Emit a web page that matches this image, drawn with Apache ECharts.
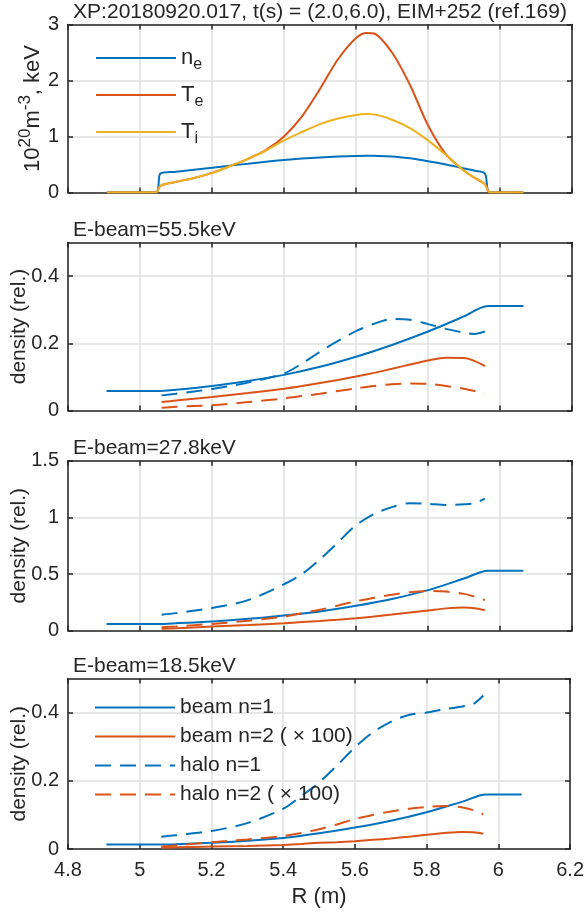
<!DOCTYPE html>
<html><head><meta charset="utf-8">
<script src="https://cdn.jsdelivr.net/npm/echarts@6/dist/echarts.min.js"></script>
<style>html,body{margin:0;padding:0;background:#fff}#c{width:587px;height:917px}</style>
</head><body><div id="c"></div>
<script>
// ---------- Panel 1: profiles ----------
const R_prof = [4.908, 5.044, 5.057, 5.1, 5.15, 5.2, 5.25, 5.3, 5.35, 5.4, 5.45, 5.5, 5.55, 5.6, 5.63, 5.65, 5.7, 5.75, 5.8, 5.85, 5.9, 5.93, 5.958, 5.972, 6.065];
const ne = [0, 0, 0.34, 0.37, 0.405, 0.44, 0.48, 0.515, 0.55, 0.58, 0.605, 0.625, 0.642, 0.653, 0.656, 0.655, 0.645, 0.61, 0.56, 0.50, 0.43, 0.39, 0.34, 0, 0];
const Te = [0, 0, 0.12, 0.19, 0.26, 0.35, 0.47, 0.6, 0.76, 1.0, 1.36, 1.85, 2.38, 2.76, 2.85, 2.84, 2.5, 1.92, 1.2, 0.68, 0.39, 0.26, 0.15, 0, 0];
const Ti = [0, 0, 0.12, 0.19, 0.26, 0.35, 0.47, 0.6, 0.75, 0.93, 1.08, 1.22, 1.32, 1.385, 1.40, 1.395, 1.30, 1.15, 0.93, 0.67, 0.39, 0.26, 0.15, 0, 0];

// ---------- beam / halo radial grids ----------
const R_beam = [4.907, 5.05, 5.1, 5.2, 5.3, 5.4, 5.5, 5.6, 5.7, 5.8, 5.9, 5.966, 6.065];
const R_halo = [5.06, 5.1, 5.2, 5.3, 5.4, 5.45, 5.5, 5.55, 5.6, 5.65, 5.7, 5.75, 5.8, 5.85, 5.9, 5.93, 5.958];

// E-beam = 55.5 keV
const b1_55 = [0.058, 0.058, 0.062, 0.073, 0.088, 0.106, 0.13, 0.16, 0.195, 0.235, 0.28, 0.311, 0.311];
const b2_55 = [0.025, 0.03, 0.04, 0.052, 0.065, 0.073, 0.082, 0.091, 0.101, 0.112, 0.124, 0.137, 0.149, 0.157, 0.156, 0.147, 0.132];
const h1_55 = [0.045, 0.05, 0.064, 0.083, 0.11, 0.14, 0.175, 0.207, 0.236, 0.258, 0.272, 0.27, 0.257, 0.243, 0.232, 0.228, 0.235];
const h2_55 = [0.008, 0.011, 0.016, 0.025, 0.036, 0.043, 0.05, 0.058, 0.066, 0.073, 0.078, 0.08, 0.079, 0.073, 0.065, 0.058, 0.05];

// E-beam = 27.8 keV
const b1_27 = [0.06, 0.06, 0.066, 0.082, 0.105, 0.135, 0.17, 0.22, 0.28, 0.358, 0.46, 0.53, 0.53];
const b2_27 = [0.018, 0.022, 0.036, 0.05, 0.066, 0.076, 0.086, 0.097, 0.11, 0.125, 0.142, 0.16, 0.178, 0.197, 0.205, 0.198, 0.18];
const h1_27 = [0.141, 0.155, 0.2, 0.27, 0.41, 0.5, 0.63, 0.78, 0.93, 1.03, 1.09, 1.125, 1.12, 1.11, 1.115, 1.125, 1.165];
const h2_27 = [0.03, 0.038, 0.06, 0.088, 0.125, 0.155, 0.185, 0.222, 0.26, 0.29, 0.318, 0.34, 0.352, 0.345, 0.325, 0.3, 0.27];

// E-beam = 18.5 keV
const b1_18 = [0.013, 0.013, 0.014, 0.018, 0.024, 0.032, 0.046, 0.063, 0.083, 0.108, 0.139, 0.16, 0.16];
const b2_18 = [0.004, 0.005, 0.007, 0.009, 0.012, 0.015, 0.018, 0.02, 0.023, 0.027, 0.031, 0.036, 0.042, 0.047, 0.05, 0.049, 0.045];
const h1_18 = [0.036, 0.04, 0.053, 0.076, 0.118, 0.155, 0.195, 0.245, 0.298, 0.342, 0.373, 0.393, 0.4, 0.41, 0.418, 0.425, 0.45];
const h2_18 = [0.007, 0.01, 0.02, 0.028, 0.038, 0.047, 0.058, 0.072, 0.088, 0.1, 0.11, 0.118, 0.123, 0.126, 0.122, 0.114, 0.102];

const panelTitles = ['E-beam=55.5keV', 'E-beam=27.8keV', 'E-beam=18.5keV'];
const mainTitle = 'XP:20180920.017, t(s) = (2.0,6.0), EIM+252 (ref.169)';
const legendProf = ['n_e', 'T_e', 'T_i'];
const legendBeam = ['beam n=1', 'beam n=2 ( × 100)', 'halo n=1', 'halo n=2 ( × 100)'];
const xTicks = {min: 4.8, max: 6.2, interval: 0.2};
const yRanges = [{min: 0, max: 3, interval: 1}, {min: 0, max: 0.5, interval: 0.2}, {min: 0, max: 1.5, interval: 0.5}, {min: 0, max: 0.5, interval: 0.2}];

// ---------- styling ----------
const FONT = 'Liberation Sans, Arial, Helvetica, sans-serif';
const INK = '#262626';
const BLUE = '#0072BD', ORANGE = '#D95319', YELLOW = '#EDB120';
const DASH = [16, 9];
const grids = [
  {left: 68, width: 504, top: 24.5, height: 168},
  {left: 68, width: 504, top: 242.5, height: 168},
  {left: 68, width: 504, top: 460.7, height: 170},
  {left: 68, width: 504, top: 678.5, height: 170.5}
];

function zip(xs, ys) { return xs.map((x, i) => [x, ys[i]]); }

const xAxes = [], yAxes = [];
const axLine = {show: true, onZero: false, lineStyle: {color: INK, width: 1.5}};
const axTick = {show: true, inside: true, length: 5, lineStyle: {color: INK, width: 1.5}};
const split = {show: true, lineStyle: {color: '#dfdfdf', width: 1.5}};
grids.forEach((g, i) => {
  const last = i === 3;
  xAxes.push({type: 'value', gridIndex: i, position: 'bottom', min: xTicks.min, max: xTicks.max, interval: xTicks.interval,
    axisLine: axLine, axisTick: axTick, splitLine: split,
    axisLabel: {show: last, fontSize: 20, color: INK, fontFamily: FONT, margin: 11},
    name: last ? 'R (m)' : '', nameLocation: 'middle', nameGap: 37, nameMoveOverlap: false,
    nameTextStyle: {fontSize: 22, color: INK, fontFamily: FONT, verticalAlign: 'top'}});
  xAxes.push({type: 'value', gridIndex: i, position: 'top', min: xTicks.min, max: xTicks.max, interval: xTicks.interval,
    axisLine: axLine, axisTick: axTick, splitLine: {show: false}, axisLabel: {show: false}});
  const yr = yRanges[i];
  yAxes.push({type: 'value', gridIndex: i, position: 'left', min: yr.min, max: yr.max, interval: yr.interval,
    axisLine: axLine, axisTick: axTick, splitLine: split,
    axisLabel: {show: true, fontSize: 20, color: INK, fontFamily: FONT, margin: 9, showMaxLabel: (i === 0 || i === 2)},
    name: i === 0 ? '10{sup|20}m{sup|-3}, keV' : 'density (rel.)',
    nameLocation: 'middle', nameRotate: 90, nameGap: i === 0 ? 20 : 38, nameMoveOverlap: false,
    nameTextStyle: {fontSize: i === 0 ? 22 : 21, color: INK, fontFamily: FONT,
      rich: {sup: {fontSize: 17, color: INK, fontFamily: FONT, verticalAlign: 'top', padding: [0, 0, 14, 0]}}}});
  yAxes.push({type: 'value', gridIndex: i, position: 'right', min: yr.min, max: yr.max, interval: yr.interval,
    axisLine: axLine, axisTick: axTick, splitLine: {show: false}, axisLabel: {show: false}});
});

function line(name, gi, data, color, dashed) {
  return {type: 'line', name: name, xAxisIndex: 2 * gi, yAxisIndex: 2 * gi, data: data,
    symbol: 'none', smooth: 0.3, animation: false,
    lineStyle: {color: color, width: 2, type: dashed ? DASH : 'solid'},
    itemStyle: {color: color}};
}

const series = [
  line(legendProf[0], 0, zip(R_prof, ne), BLUE, false),
  line(legendProf[1], 0, zip(R_prof, Te), ORANGE, false),
  line(legendProf[2], 0, zip(R_prof, Ti), YELLOW, false)
];
const sets = [[b1_55, b2_55, h1_55, h2_55], [b1_27, b2_27, h1_27, h2_27], [b1_18, b2_18, h1_18, h2_18]];
sets.forEach((s, k) => {
  const gi = k + 1;
  series.push(line(legendBeam[0], gi, zip(R_beam, s[0]), BLUE, false));
  series.push(line(legendBeam[1], gi, zip(R_halo, s[1]), ORANGE, false));
  series.push(line(legendBeam[2], gi, zip(R_halo, s[2]), BLUE, true));
  series.push(line(legendBeam[3], gi, zip(R_halo, s[3]), ORANGE, true));
});

const subMap = {n_e: 'n{s|e}', T_e: 'T{s|e}', T_i: 'T{s|i}'};
const graphic = [
  {type: 'text', x: 320, y: 12.5, style: {text: mainTitle, font: '21px ' + FONT, fill: INK, textAlign: 'center', textVerticalAlign: 'middle'}}
];
panelTitles.forEach((t, k) => {
  const g = grids[k + 1];
  graphic.push({type: 'text', x: 73, y: g.top - 12, style: {text: t, font: '21px ' + FONT, fill: INK, textAlign: 'left', textVerticalAlign: 'middle'}});
});

const hiddenSym = {color: 'rgba(0,0,0,0)', borderColor: 'rgba(0,0,0,0)', borderWidth: 0, opacity: 0};
const chart = echarts.init(document.getElementById('c'), null, {renderer: 'canvas'});
chart.setOption({
  animation: false,
  backgroundColor: '#fff',
  grid: grids.map(g => Object.assign({containLabel: false}, g)),
  xAxis: xAxes, yAxis: yAxes, series: series, graphic: graphic,
  legend: [
    {data: legendProf, orient: 'vertical', left: 90, top: 42, itemWidth: 80, itemHeight: 14, itemGap: 11,
      formatter: n => subMap[n], selectedMode: false, itemStyle: hiddenSym,
      textStyle: {fontSize: 22, color: INK, fontFamily: FONT,
        rich: {s: {fontSize: 16, color: INK, fontFamily: FONT, verticalAlign: 'bottom', padding: [14, 0, 0, 0]}}}},
    {data: legendBeam, orient: 'vertical', left: 89, top: 692, itemWidth: 80, itemHeight: 14, itemGap: 8, selectedMode: false,
      itemStyle: hiddenSym,
      textStyle: {fontSize: 21, color: INK, fontFamily: FONT}}
  ]
});
</script></body></html>
